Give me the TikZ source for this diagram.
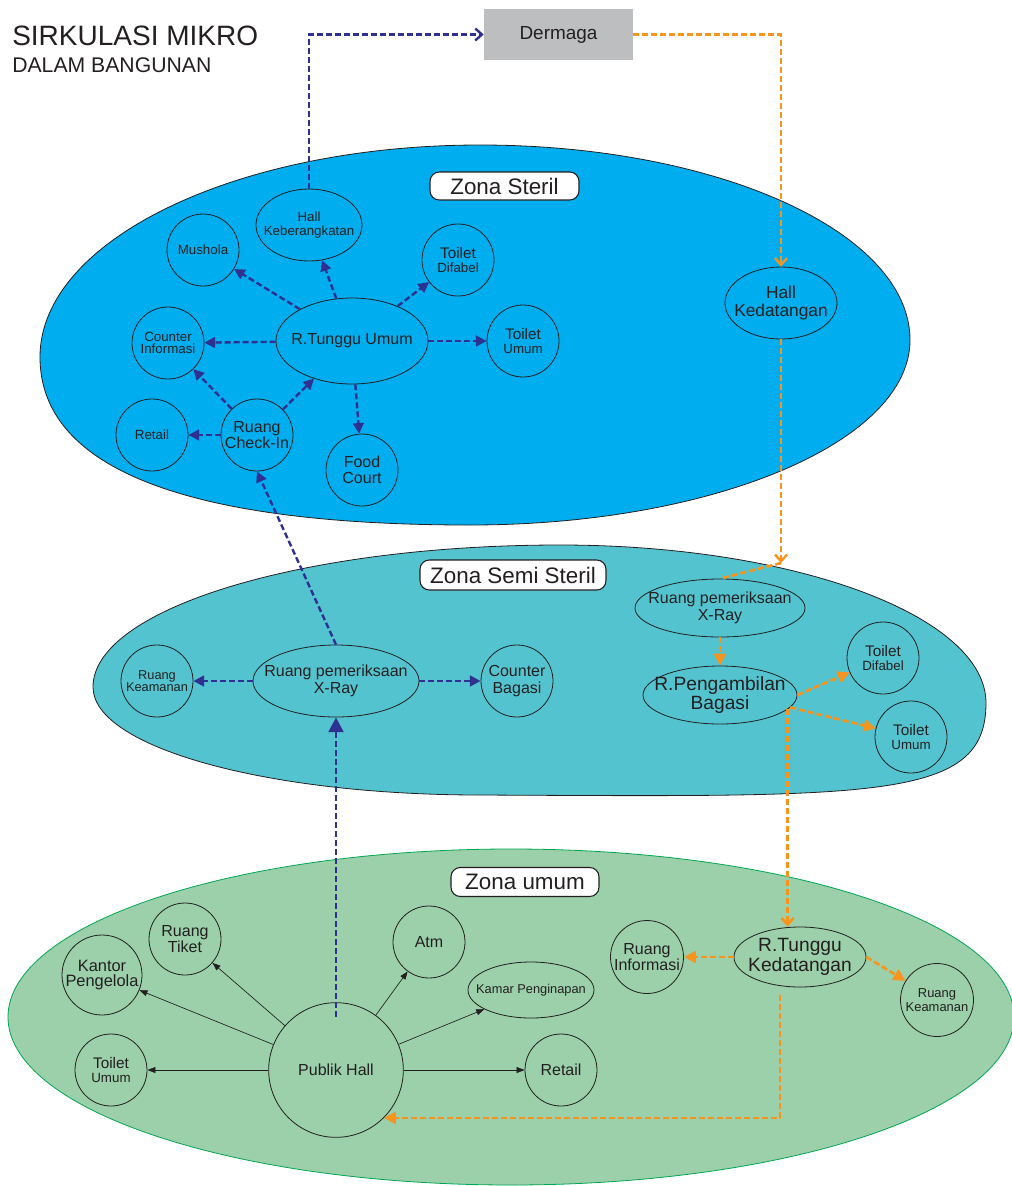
\documentclass[tikz,border=0pt]{standalone}
\usepackage{fontspec}
\setmainfont{Liberation Sans}
\usetikzlibrary{shapes.geometric,arrows.meta}
\definecolor{steril}{HTML}{00AEEF}
\definecolor{semisteril}{HTML}{53C4CF}
\definecolor{umum}{HTML}{9BD0AA}
\definecolor{umumline}{HTML}{00A651}
\definecolor{dermagagray}{HTML}{BCBEC0}
\definecolor{flowblue}{HTML}{2E3192}
\definecolor{floworange}{HTML}{F7941D}
\definecolor{ink}{HTML}{231F20}
\newcommand{\ukuran}[2]{\fontsize{#1}{#2}\selectfont}
\begin{document}
\begin{tikzpicture}[x=0.75pt, y=-0.75pt, text=ink,
	ruang/.style={circle, draw=ink, line width=0.6pt, minimum size=54pt, inner sep=-4pt, align=center, font=\ukuran{10}{10.5}},
	oval/.style={ellipse, draw=ink, line width=0.6pt, inner xsep=-20pt, inner ysep=0pt, align=center, font=\ukuran{12}{13}},
	zonalabel/.style={draw=ink, fill=white, rounded corners=7pt, line width=0.8pt, inner sep=0pt, font=\ukuran{16.8}{17}},
	alurbiru/.style={flowblue, line width=1.8pt, dash pattern=on 4.5pt off 2.25pt, -{Triangle[length=8pt,width=8pt]}},
	aluroranye/.style={floworange, line width=2pt, dash pattern=on 4.5pt off 2.25pt, -{Triangle[length=9pt,width=9pt]}},
	alurumum/.style={ink, line width=0.5pt, -{Triangle[length=6pt,width=4.5pt]}},
	barb/.style={-{Straight Barb[length=5pt,width=9pt]}}]
	\useasboundingbox (0,0) rectangle (1011,1186);

	\node[anchor=base west, inner sep=0pt, font=\ukuran{21}{22}] (judul) at (12,45) {SIRKULASI MIKRO};
	\node[anchor=base west, inner sep=0pt, font=\ukuran{15.9}{17}] (subjudul) at (12,72) {DALAM BANGUNAN};
	\node[fill=dermagagray, minimum width=111.75pt, minimum height=38.25pt, font=\ukuran{14.2}{15}] (dermaga) at (558.5,34.5) {Dermaga};

	\draw[fill=steril, draw=ink, line width=0.6pt] (40,357) .. controls (40,240) and (237,145) .. (480,145) .. controls (717,145) and (910,232) .. (910,340) .. controls (910,442) and (713,525) .. (470,525) .. controls (190,525) and (40,470) .. cycle;
	\draw[fill=semisteril, draw=ink, line width=0.6pt] (93,687) .. controls (93,609) and (302,545) .. (560,545) .. controls (795,545) and (986,616) .. (986,703) .. controls (986,800) and (880,797) .. (480,795) .. controls (266,795) and (93,747) .. cycle;
	\draw[fill=umum, draw=umumline, line width=0.6pt] (511,1017) ellipse [x radius=503, y radius=168];

	\node[zonalabel, minimum width=111.75pt, minimum height=21pt] (lsteril) at (504.5,186) {Zona Steril};
	\node[zonalabel, minimum width=139.5pt, minimum height=22.5pt] (lsemi) at (513,575) {Zona Semi Steril};
	\node[zonalabel, minimum width=111pt, minimum height=21.75pt] (lumum) at (525,882) {Zona umum};

	\node[ruang] (mushola) at (203,250) {Mushola};
	\node[oval, minimum width=79.5pt, minimum height=54pt, font=\ukuran{10}{11}] (hkb) at (309,225) {Hall\\Keberangkatan};
	\node[ruang] (tdf1) at (458,260) {{\ukuran{11.5}{10.5}Toilet}\\Difabel};
	\node[oval, minimum width=114pt, minimum height=64.5pt] (rtu) at (352,341) {R.Tunggu Umum};
	\node[ruang, font=\ukuran{10}{9}] (cinfo) at (168,343) {Counter\\Informasi};
	\node[ruang] (tum1) at (523,341) {{\ukuran{11.5}{10.5}Toilet}\\Umum};
	\node[ruang] (retail1) at (152,435) {Retail};
	\node[ruang, font=\ukuran{12}{12.5}] (checkin) at (257,435) {Ruang\\Check-In};
	\node[ruang, font=\ukuran{12}{12}] (food) at (362,470) {Food\\Court};
	\node[oval, minimum width=84pt, minimum height=54pt, font=\ukuran{13}{14}] (hkd) at (781,303) {Hall\\Kedatangan};

	\node[ruang, font=\ukuran{9.6}{9.5}] (kmn1) at (157,681) {Ruang\\Keamanan};
	\node[oval, minimum width=124.5pt, minimum height=54pt] (xray1) at (336,681) {Ruang pemeriksaan\\X-Ray};
	\node[ruang, font=\ukuran{12}{13}] (cbag) at (517,681) {Counter\\Bagasi};
	\node[oval, minimum width=127.5pt, minimum height=43.5pt] (xray2) at (720,608) {Ruang pemeriksaan\\X-Ray};
	\node[oval, minimum width=115.5pt, minimum height=43.5pt, font=\ukuran{14.4}{14.5}] (rpb) at (720,695) {R.Pengambilan\\Bagasi};
	\node[ruang] (tdf2) at (883,658) {{\ukuran{11.5}{10.5}Toilet}\\Difabel};
	\node[ruang] (tum2) at (911,737) {{\ukuran{11.5}{10.5}Toilet}\\Umum};

	\node[ruang, font=\ukuran{12}{11.5}] (tiket) at (185,939) {Ruang\\Tiket};
	\node[ruang, minimum size=60pt, font=\ukuran{12.3}{11.5}] (kantor) at (102,975) {Kantor\\Pengelola};
	\node[ruang] (tum3) at (111,1070) {{\ukuran{11.5}{10.5}Toilet}\\Umum};
	\node[ruang, minimum size=101pt, font=\ukuran{12}{13}] (ph) at (336,1070) {Publik Hall};
	\node[ruang, font=\ukuran{12}{13}] (atm) at (429,942) {Atm};
	\node[oval, minimum width=94.5pt, minimum height=42pt, font=\ukuran{9.6}{10}] (kamar) at (531,990) {Kamar Penginapan};
	\node[ruang, font=\ukuran{12}{13}] (retail2) at (561,1070) {Retail};
	\node[ruang, minimum size=54.75pt, font=\ukuran{12}{12}] (rinfo) at (647,957) {Ruang\\Informasi};
	\node[oval, minimum width=99pt, minimum height=45pt, font=\ukuran{14.4}{15}] (rtk) at (800,957) {R.Tunggu\\Kedatangan};
	\node[ruang, minimum size=54.75pt, font=\ukuran{9.7}{10}] (kmn3) at (937,1000) {Ruang\\Keamanan};

	\coordinate (xin) at (781,563);
	\coordinate (turun) at (780,995);

	\draw[alurbiru, barb] (hkb.north) |- (dermaga.west);
	\draw[alurbiru] (rtu) -- (mushola); \draw[alurbiru] (rtu) -- (hkb); \draw[alurbiru] (rtu) -- (tdf1);
	\draw[alurbiru] (rtu) -- (cinfo); \draw[alurbiru] (rtu) -- (tum1); \draw[alurbiru] (rtu) -- (food);
	\draw[alurbiru] (checkin) -- (rtu); \draw[alurbiru] (checkin) -- (cinfo); \draw[alurbiru] (checkin) -- (retail1);
	\draw[alurbiru] (xray1.north) -- (checkin.south);
	\draw[alurbiru] (xray1) -- (kmn1); \draw[alurbiru] (xray1) -- (cbag);
	\draw[alurbiru, line width=2.2pt, -{Triangle[length=11pt,width=11pt]}] ([yshift=-11pt]ph.north) -- (xray1.south);

	\draw[aluroranye, line width=1.8pt, barb] (dermaga.east) -| (hkd.north);
	\draw[aluroranye, line width=1.8pt, barb] (hkd.south) -- (xin);
	\draw[aluroranye, -] (xin) -- (xray2.north);
	\draw[aluroranye] (xray2.south) -- (rpb.north);
	\draw[aluroranye] (rpb.east) -- (tdf2); \draw[aluroranye] (rpb.-10) -- (tum2);
	\draw[aluroranye, barb] (rpb.-12) -- (rpb.-12 |- rtk.north);
	\draw[aluroranye] (rtk) -- (rinfo); \draw[aluroranye] (rtk.east) -- (kmn3);
	\draw[aluroranye] (turun) |- (ph.-45);

	\draw[alurumum] (ph) -- (tum3); \draw[alurumum] (ph) -- (kantor); \draw[alurumum] (ph) -- (tiket);
	\draw[alurumum] (ph) -- (atm); \draw[alurumum] (ph) -- (kamar); \draw[alurumum] (ph) -- (retail2);
\end{tikzpicture}
\end{document}
